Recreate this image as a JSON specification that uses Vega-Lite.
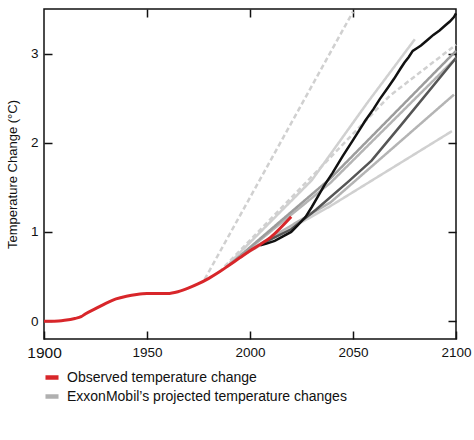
{
  "$schema": "https://vega.github.io/schema/vega-lite/v6.json",
  "width": 412,
  "height": 330,
  "autosize": {"type": "none"},
  "padding": {"left": 44, "top": 9, "right": 18, "bottom": 101},
  "background": "white",
  "config": {
    "view": {"stroke": "#111111", "strokeWidth": 1.5},
    "font": "Liberation Sans",
    "axis": {"grid": false, "domain": false, "tickColor": "#111111", "tickWidth": 1.5, "labelColor": "#111111", "titleColor": "#111111", "labelFont": "Liberation Sans", "titleFont": "Liberation Sans", "titleFontWeight": "normal", "labelFlush": false}
  },
  "datasets": {
    "obs": [
      {"year": 1900, "temp": 0.0, "group": "Observed temperature change"},
      {"year": 1905, "temp": 0.0, "group": "Observed temperature change"},
      {"year": 1910, "temp": 0.01, "group": "Observed temperature change"},
      {"year": 1915, "temp": 0.03, "group": "Observed temperature change"},
      {"year": 1918, "temp": 0.05, "group": "Observed temperature change"},
      {"year": 1920, "temp": 0.08, "group": "Observed temperature change"},
      {"year": 1925, "temp": 0.14, "group": "Observed temperature change"},
      {"year": 1930, "temp": 0.2, "group": "Observed temperature change"},
      {"year": 1935, "temp": 0.25, "group": "Observed temperature change"},
      {"year": 1940, "temp": 0.28, "group": "Observed temperature change"},
      {"year": 1945, "temp": 0.3, "group": "Observed temperature change"},
      {"year": 1950, "temp": 0.31, "group": "Observed temperature change"},
      {"year": 1955, "temp": 0.31, "group": "Observed temperature change"},
      {"year": 1960, "temp": 0.31, "group": "Observed temperature change"},
      {"year": 1965, "temp": 0.33, "group": "Observed temperature change"},
      {"year": 1970, "temp": 0.37, "group": "Observed temperature change"},
      {"year": 1975, "temp": 0.42, "group": "Observed temperature change"},
      {"year": 1980, "temp": 0.48, "group": "Observed temperature change"},
      {"year": 1985, "temp": 0.55, "group": "Observed temperature change"},
      {"year": 1990, "temp": 0.63, "group": "Observed temperature change"},
      {"year": 1995, "temp": 0.71, "group": "Observed temperature change"},
      {"year": 2000, "temp": 0.79, "group": "Observed temperature change"},
      {"year": 2005, "temp": 0.86, "group": "Observed temperature change"},
      {"year": 2010, "temp": 0.94, "group": "Observed temperature change"},
      {"year": 2015, "temp": 1.05, "group": "Observed temperature change"},
      {"year": 2020, "temp": 1.17, "group": "Observed temperature change"}
    ],
    "light": [
      {"line": "L1", "shade": "lightest", "style": "dashed", "year": 1978, "temp": 0.47},
      {"line": "L1", "shade": "lightest", "style": "dashed", "year": 2050, "temp": 3.47},
      {"line": "L2", "shade": "lightest", "style": "dashed", "year": 1985, "temp": 0.55},
      {"line": "L2", "shade": "lightest", "style": "dashed", "year": 2035, "temp": 1.74},
      {"line": "L2", "shade": "lightest", "style": "dashed", "year": 2068, "temp": 2.53},
      {"line": "L2", "shade": "lightest", "style": "dashed", "year": 2100, "temp": 3.1},
      {"line": "L3", "shade": "lightest", "style": "solid", "year": 1990, "temp": 0.65},
      {"line": "L3", "shade": "lightest", "style": "solid", "year": 2030, "temp": 1.58},
      {"line": "L3", "shade": "lightest", "style": "solid", "year": 2057, "temp": 2.45},
      {"line": "L3", "shade": "lightest", "style": "solid", "year": 2080, "temp": 3.16},
      {"line": "L7", "shade": "lightest", "style": "solid", "year": 1995, "temp": 0.72},
      {"line": "L7", "shade": "lightest", "style": "solid", "year": 2039, "temp": 1.29},
      {"line": "L7", "shade": "lightest", "style": "solid", "year": 2098, "temp": 2.13},
      {"line": "L6", "shade": "light", "style": "solid", "year": 2000, "temp": 0.8},
      {"line": "L6", "shade": "light", "style": "solid", "year": 2039, "temp": 1.33},
      {"line": "L6", "shade": "light", "style": "solid", "year": 2099, "temp": 2.54},
      {"line": "L5", "shade": "light", "style": "solid", "year": 1990, "temp": 0.63},
      {"line": "L5", "shade": "light", "style": "solid", "year": 2039, "temp": 1.55},
      {"line": "L5", "shade": "light", "style": "solid", "year": 2100, "temp": 2.95},
      {"line": "L4", "shade": "medium", "style": "solid", "year": 1990, "temp": 0.63},
      {"line": "L4", "shade": "medium", "style": "solid", "year": 2039, "temp": 1.6},
      {"line": "L4", "shade": "medium", "style": "solid", "year": 2100, "temp": 3.03}
    ],
    "dark": [
      {"line": "D1", "shade": "dark", "year": 2005, "temp": 0.86},
      {"line": "D1", "shade": "dark", "year": 2020, "temp": 1.03},
      {"line": "D1", "shade": "dark", "year": 2032, "temp": 1.25},
      {"line": "D1", "shade": "dark", "year": 2048, "temp": 1.57},
      {"line": "D1", "shade": "dark", "year": 2059, "temp": 1.8},
      {"line": "D1", "shade": "dark", "year": 2073, "temp": 2.19},
      {"line": "D1", "shade": "dark", "year": 2100, "temp": 2.95},
      {"line": "B1", "shade": "black", "year": 2005, "temp": 0.85},
      {"line": "B1", "shade": "black", "year": 2008, "temp": 0.87},
      {"line": "B1", "shade": "black", "year": 2012, "temp": 0.9},
      {"line": "B1", "shade": "black", "year": 2016, "temp": 0.95},
      {"line": "B1", "shade": "black", "year": 2020, "temp": 1.0},
      {"line": "B1", "shade": "black", "year": 2023, "temp": 1.07},
      {"line": "B1", "shade": "black", "year": 2027, "temp": 1.17},
      {"line": "B1", "shade": "black", "year": 2030, "temp": 1.28},
      {"line": "B1", "shade": "black", "year": 2033, "temp": 1.4},
      {"line": "B1", "shade": "black", "year": 2036, "temp": 1.52},
      {"line": "B1", "shade": "black", "year": 2040, "temp": 1.66},
      {"line": "B1", "shade": "black", "year": 2045, "temp": 1.85},
      {"line": "B1", "shade": "black", "year": 2050, "temp": 2.03},
      {"line": "B1", "shade": "black", "year": 2053, "temp": 2.14},
      {"line": "B1", "shade": "black", "year": 2056, "temp": 2.25},
      {"line": "B1", "shade": "black", "year": 2060, "temp": 2.38},
      {"line": "B1", "shade": "black", "year": 2063, "temp": 2.49},
      {"line": "B1", "shade": "black", "year": 2067, "temp": 2.62},
      {"line": "B1", "shade": "black", "year": 2070, "temp": 2.72},
      {"line": "B1", "shade": "black", "year": 2073, "temp": 2.83},
      {"line": "B1", "shade": "black", "year": 2075, "temp": 2.9},
      {"line": "B1", "shade": "black", "year": 2077, "temp": 2.96},
      {"line": "B1", "shade": "black", "year": 2079, "temp": 3.03},
      {"line": "B1", "shade": "black", "year": 2081, "temp": 3.06},
      {"line": "B1", "shade": "black", "year": 2083, "temp": 3.09},
      {"line": "B1", "shade": "black", "year": 2086, "temp": 3.15},
      {"line": "B1", "shade": "black", "year": 2089, "temp": 3.21},
      {"line": "B1", "shade": "black", "year": 2092, "temp": 3.26},
      {"line": "B1", "shade": "black", "year": 2095, "temp": 3.32},
      {"line": "B1", "shade": "black", "year": 2097, "temp": 3.36},
      {"line": "B1", "shade": "black", "year": 2099, "temp": 3.41},
      {"line": "B1", "shade": "black", "year": 2100, "temp": 3.45}
    ]
  },
  "layer": [
    {
      "data": {"name": "light"},
      "mark": {"type": "line", "strokeWidth": 2.5, "strokeCap": "butt"},
      "encoding": {
        "x": {"field": "year", "type": "quantitative", "scale": {"domain": [1900, 2100], "nice": false, "zero": false},
              "axis": {"orient": "top", "values": [1950, 2000, 2050], "labels": false, "title": null, "tickSize": -8}},
        "y": {"field": "temp", "type": "quantitative", "scale": {"domain": [-0.2, 3.5], "nice": false, "zero": false},
              "axis": {"orient": "right", "values": [0, 1, 2, 3], "labels": false, "title": null, "tickSize": -8}},
        "detail": {"field": "line"},
        "stroke": {"field": "shade", "type": "nominal",
                   "scale": {"domain": ["black", "dark", "medium", "light", "lightest"], "range": ["#111111", "#555555", "#9c9c9c", "#b4b4b4", "#d0d0d0"]},
                   "legend": null},
        "strokeDash": {"field": "style", "type": "nominal",
                       "scale": {"domain": ["solid", "dashed"], "range": [[1, 0], [5, 3]]}, "legend": null}
      }
    },
    {
      "data": {"name": "dark"},
      "mark": {"type": "line", "strokeWidth": 2.5},
      "encoding": {
        "x": {"field": "year", "type": "quantitative", "axis": null},
        "y": {"field": "temp", "type": "quantitative", "axis": null},
        "detail": {"field": "line"},
        "stroke": {"field": "shade", "type": "nominal", "legend": null}
      }
    },
    {
      "data": {"name": "obs"},
      "mark": {"type": "line", "strokeWidth": 3, "interpolate": "monotone"},
      "encoding": {
        "x": {"field": "year", "type": "quantitative",
              "axis": {"orient": "bottom", "values": [1900, 1950, 2000, 2050, 2100], "format": "d", "title": null, "tickSize": -8, "labelPadding": 14,
                       "labelFontSize": {"condition": {"test": "datum.value === 1900", "value": 15.5}, "value": 13.5}}},
        "y": {"field": "temp", "type": "quantitative",
              "axis": {"orient": "left", "values": [0, 1, 2, 3], "title": "Temperature Change (°C)", "titleFontSize": 13, "labelFontSize": 13.5, "tickSize": -8, "labelPadding": 14, "titlePadding": 11}},
        "color": {"field": "group", "type": "nominal",
                  "scale": {"domain": ["Observed temperature change", "ExxonMobil’s projected temperature changes"], "range": ["#d8262a", "#b0b0b0"]},
                  "legend": {"orient": "none", "legendX": -1, "legendY": 359.5, "direction": "vertical", "title": null, "symbolType": "stroke", "symbolStrokeWidth": 4.5, "symbolSize": 170, "labelFontSize": 14, "labelOffset": 6, "rowPadding": 1, "labelLimit": 400, "labelColor": "#111111", "labelFont": "Liberation Sans"}}
      }
    }
  ],
  "resolve": {"axis": {"x": "independent", "y": "independent"}}
}
